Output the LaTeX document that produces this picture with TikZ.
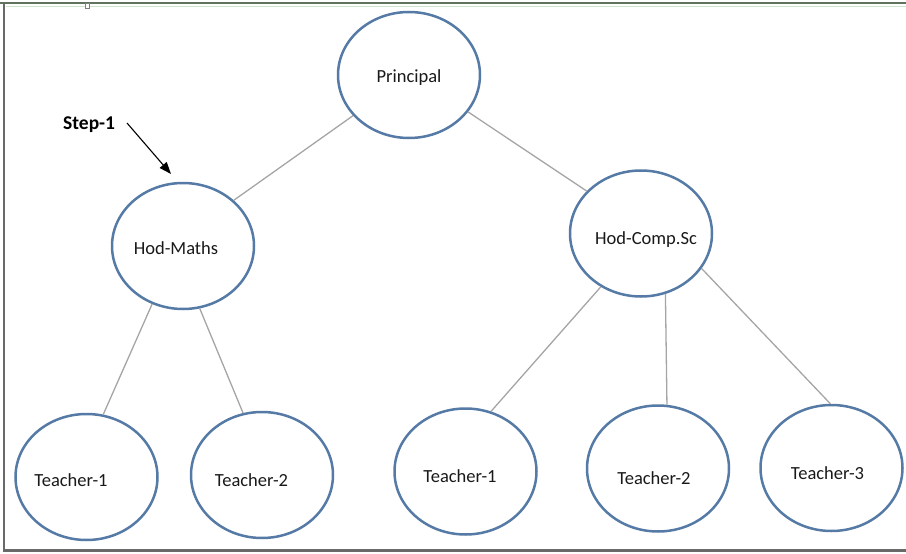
\documentclass[tikz,border=0pt]{standalone}
\usepackage{fontspec}
\setmainfont{Carlito}
\usetikzlibrary{shapes.geometric,arrows.meta}
\definecolor{ellblue}{RGB}{84,122,165}
\definecolor{linegray}{RGB}{165,165,165}
\definecolor{txt}{RGB}{25,25,25}
\definecolor{framegray}{RGB}{105,105,105}
\definecolor{topgreen}{RGB}{95,115,95}
\definecolor{palegreen}{RGB}{205,230,205}
\begin{document}
\begin{tikzpicture}[x=1pt,y=-1pt,
  bub/.style={draw=ellblue, line width=2.5pt, ellipse, minimum width=142pt, minimum height=126pt, inner sep=0pt},
  lbl/.style={font=\fontsize{18.5}{22}\selectfont, text=txt, inner sep=0pt, anchor=base},
  conn/.style={draw=linegray, line width=1.3pt},
  steparrow/.style={draw=black, line width=1.1pt, -{Triangle[length=12pt,width=9pt]}}]
\useasboundingbox (0,0) rectangle (906,554);
% frame
\draw[palegreen, line width=1.5pt] (6,6.5) -- (906,6.5);
\draw[topgreen, line width=2pt] (0,3) -- (906,3);
\draw[framegray, line width=2pt] (4,3) -- (4,551);
\draw[framegray, line width=2.5pt] (3,550.5) -- (906,550.5);
\draw[gray, line width=0.8pt, fill=white] (85,3.5) rectangle (89,8);
% ellipses
\node[bub] (P) at (409,75) {};
\node[bub] (M) at (183,246) {};
\node[bub] (C) at (641,233.5) {};
\node[bub] (T1) at (86.5,477) {};
\node[bub] (T2) at (262,475) {};
\node[bub] (T3) at (465.5,471.5) {};
\node[bub] (T4) at (658,468.5) {};
\node[bub] (T5) at (831.5,468) {};
% labels
\node[lbl] (lP) at (409,82) {Principal};
\node[lbl] (lM) at (176,254) {Hod-Maths};
\node[lbl] (lC) at (646,244) {Hod-Comp.Sc};
\node[lbl] (l1) at (71,486) {Teacher-1};
\node[lbl] (l2) at (251.5,486) {Teacher-2};
\node[lbl] (l3) at (460,482) {Teacher-1};
\node[lbl] (l4) at (654,484) {Teacher-2};
\node[lbl] (l5) at (827.5,479) {Teacher-3};
% connectors
\draw[conn] (P.-144) -- (M.42);
\draw[conn] (P.-32) -- (C.142);
\draw[conn] (M.-118) -- (T1.75);
\draw[conn] (M.-75) -- (T2.107);
\draw[conn] (C.-127) -- (T3.67);
\draw[conn] (C.-68) -- (T4.82);
\draw[conn] (C.-30) -- (T5.91);
% step annotation
\node[font=\fontsize{19.5}{23}\selectfont\bfseries, text=black, inner sep=0pt, anchor=base west] (st) at (63,129) {Step-1};
\coordinate (a1) at (127,123);
\coordinate (a2) at (171,174);
\draw[steparrow] (a1) -- (a2);
\end{tikzpicture}
\end{document}
